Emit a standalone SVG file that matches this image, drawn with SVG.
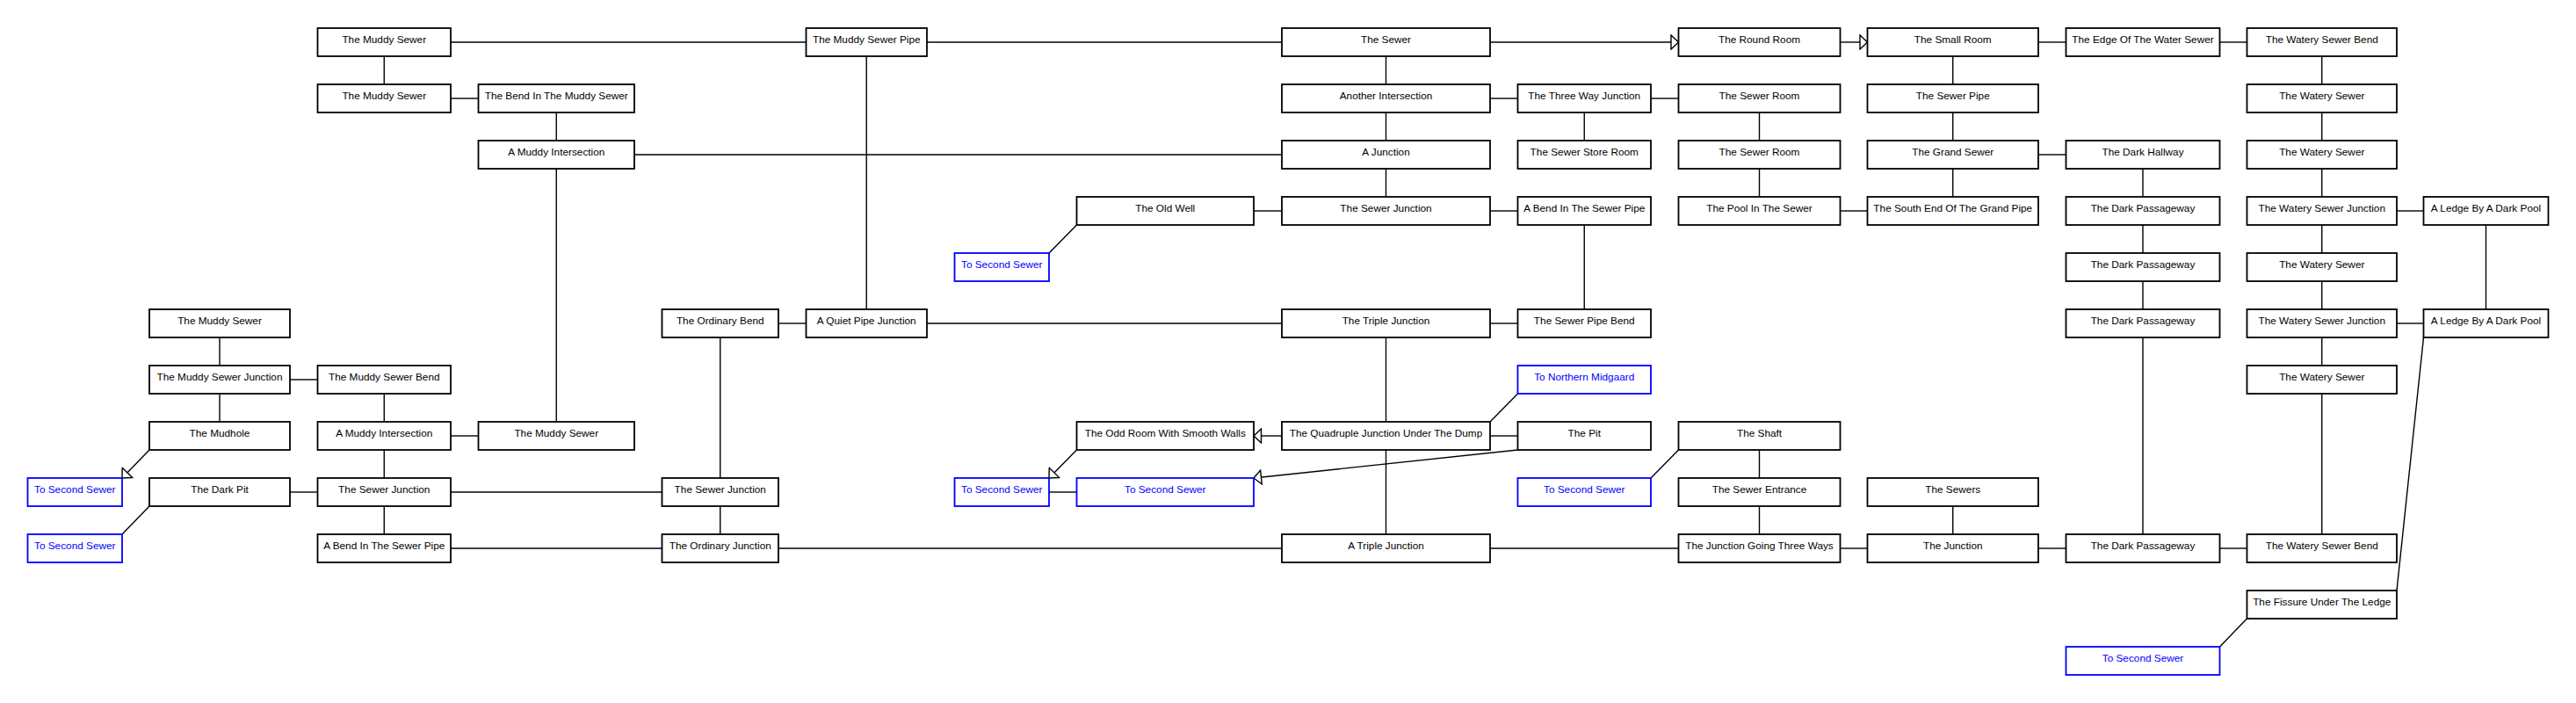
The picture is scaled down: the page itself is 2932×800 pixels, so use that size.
<svg xmlns="http://www.w3.org/2000/svg" width="2932" height="800" viewBox="0 0 2932 800">
<style>
rect{fill:#fff;stroke:#000;stroke-width:1.8}
.b rect{stroke:#0000ff}
text{font-family:"Liberation Sans",Arial,sans-serif;font-size:11.8px;text-anchor:middle;fill:#000}
.b text{fill:#0000ff}
#edges line{stroke:#000;stroke-width:1.4;fill:none}
#edges .a{marker-end:url(#arr)}
</style>
<defs>
<marker id="arr" viewBox="0 0 10 18" refX="9.5" refY="9" markerWidth="10" markerHeight="18" markerUnits="userSpaceOnUse" orient="auto">
<path d="M1,1 L9.5,9 L1,17 Z" fill="#fff" stroke="#000" stroke-width="1.4"/>
</marker>
</defs>
<rect x="0" y="0" width="2932" height="800" style="fill:#fff;stroke:none"/>
<g id="edges">
<line x1="437.25" y1="64" x2="437.25" y2="96"/>
<line x1="633.25" y1="128" x2="633.25" y2="160"/>
<line x1="633.25" y1="192" x2="633.25" y2="480"/>
<line x1="986.25" y1="64" x2="986.25" y2="352"/>
<line x1="1577.5" y1="64" x2="1577.5" y2="96"/>
<line x1="1577.5" y1="128" x2="1577.5" y2="160"/>
<line x1="1577.5" y1="192" x2="1577.5" y2="224"/>
<line x1="1803.25" y1="128" x2="1803.25" y2="160"/>
<line x1="2002.5" y1="128" x2="2002.5" y2="160"/>
<line x1="2002.5" y1="192" x2="2002.5" y2="224"/>
<line x1="2222.75" y1="64" x2="2222.75" y2="96"/>
<line x1="2222.75" y1="128" x2="2222.75" y2="160"/>
<line x1="2222.75" y1="192" x2="2222.75" y2="224"/>
<line x1="2439" y1="192" x2="2439" y2="224"/>
<line x1="2439" y1="256" x2="2439" y2="288"/>
<line x1="2439" y1="320" x2="2439" y2="352"/>
<line x1="2439" y1="384" x2="2439" y2="608"/>
<line x1="2642.75" y1="64" x2="2642.75" y2="96"/>
<line x1="2642.75" y1="128" x2="2642.75" y2="160"/>
<line x1="2642.75" y1="192" x2="2642.75" y2="224"/>
<line x1="2642.75" y1="256" x2="2642.75" y2="288"/>
<line x1="2642.75" y1="320" x2="2642.75" y2="352"/>
<line x1="2642.75" y1="384" x2="2642.75" y2="416"/>
<line x1="2642.75" y1="448" x2="2642.75" y2="608"/>
<line x1="2829.5" y1="256" x2="2829.5" y2="352"/>
<line x1="1803.25" y1="256" x2="1803.25" y2="352"/>
<line x1="1577.5" y1="384" x2="1577.5" y2="480"/>
<line x1="1577.5" y1="512" x2="1577.5" y2="608"/>
<line x1="819.75" y1="384" x2="819.75" y2="544"/>
<line x1="819.75" y1="576" x2="819.75" y2="608"/>
<line x1="2002.5" y1="512" x2="2002.5" y2="544"/>
<line x1="2002.5" y1="576" x2="2002.5" y2="608"/>
<line x1="2222.75" y1="576" x2="2222.75" y2="608"/>
<line x1="250" y1="384" x2="250" y2="416"/>
<line x1="250" y1="448" x2="250" y2="480"/>
<line x1="437.25" y1="448" x2="437.25" y2="480"/>
<line x1="437.25" y1="512" x2="437.25" y2="544"/>
<line x1="437.25" y1="576" x2="437.25" y2="608"/>
<line x1="513" y1="48" x2="917.5" y2="48"/>
<line x1="1055" y1="48" x2="1459" y2="48"/>
<line class="a" x1="1696" y1="48" x2="1910.5" y2="48"/>
<line class="a" x1="2094.5" y1="48" x2="2125.5" y2="48"/>
<line x1="2320" y1="48" x2="2351.5" y2="48"/>
<line x1="2526.5" y1="48" x2="2557.5" y2="48"/>
<line x1="513" y1="112" x2="544.5" y2="112"/>
<line x1="1696" y1="112" x2="1727.5" y2="112"/>
<line x1="1879" y1="112" x2="1910.5" y2="112"/>
<line x1="722" y1="176" x2="1459" y2="176"/>
<line x1="2320" y1="176" x2="2351.5" y2="176"/>
<line x1="1427" y1="240" x2="1459" y2="240"/>
<line x1="1696" y1="240" x2="1727.5" y2="240"/>
<line x1="2094.5" y1="240" x2="2125.5" y2="240"/>
<line x1="2728" y1="240" x2="2758.5" y2="240"/>
<line x1="886" y1="368" x2="917.5" y2="368"/>
<line x1="1055" y1="368" x2="1459" y2="368"/>
<line x1="1696" y1="368" x2="1727.5" y2="368"/>
<line x1="2728" y1="368" x2="2758.5" y2="368"/>
<line x1="330" y1="432" x2="361.5" y2="432"/>
<line x1="513" y1="496" x2="544.5" y2="496"/>
<line class="a" x1="1459" y1="496" x2="1427" y2="496"/>
<line x1="1696" y1="496" x2="1727.5" y2="496"/>
<line x1="330" y1="560" x2="361.5" y2="560"/>
<line x1="513" y1="560" x2="753.5" y2="560"/>
<line x1="1194" y1="560" x2="1225.5" y2="560"/>
<line x1="513" y1="624" x2="753.5" y2="624"/>
<line x1="886" y1="624" x2="1459" y2="624"/>
<line x1="1696" y1="624" x2="1910.5" y2="624"/>
<line x1="2094.5" y1="624" x2="2125.5" y2="624"/>
<line x1="2320" y1="624" x2="2351.5" y2="624"/>
<line x1="2526.5" y1="624" x2="2557.5" y2="624"/>
<line class="a" x1="170" y1="512" x2="139" y2="544"/>
<line x1="170" y1="576" x2="139" y2="608"/>
<line x1="1225.5" y1="256" x2="1194" y2="288"/>
<line x1="1696" y1="480" x2="1727.5" y2="448"/>
<line class="a" x1="1727.5" y1="512" x2="1427" y2="544"/>
<line class="a" x1="1225.5" y1="512" x2="1194" y2="544"/>
<line x1="1910.5" y1="512" x2="1879" y2="544"/>
<line x1="2758.5" y1="384" x2="2728" y2="672"/>
<line x1="2557.5" y1="704" x2="2526.5" y2="736"/>
</g>
<g id="n_c2r0"><rect x="361.5" y="32" width="151.5" height="32"/><text x="437.25" y="48.5">The Muddy Sewer</text></g>
<g id="n_c5r0"><rect x="917.5" y="32" width="137.5" height="32"/><text x="986.25" y="48.5">The Muddy Sewer Pipe</text></g>
<g id="n_c8r0"><rect x="1459" y="32" width="237" height="32"/><text x="1577.5" y="48.5">The Sewer</text></g>
<g id="n_c10r0"><rect x="1910.5" y="32" width="184" height="32"/><text x="2002.5" y="48.5">The Round Room</text></g>
<g id="n_c11r0"><rect x="2125.5" y="32" width="194.5" height="32"/><text x="2222.75" y="48.5">The Small Room</text></g>
<g id="n_c12r0"><rect x="2351.5" y="32" width="175" height="32"/><text x="2439" y="48.5">The Edge Of The Water Sewer</text></g>
<g id="n_c13r0"><rect x="2557.5" y="32" width="170.5" height="32"/><text x="2642.75" y="48.5">The Watery Sewer Bend</text></g>

<g id="n_c2r1"><rect x="361.5" y="96" width="151.5" height="32"/><text x="437.25" y="112.5">The Muddy Sewer</text></g>
<g id="n_c3r1"><rect x="544.5" y="96" width="177.5" height="32"/><text x="633.25" y="112.5">The Bend In The Muddy Sewer</text></g>
<g id="n_c8r1"><rect x="1459" y="96" width="237" height="32"/><text x="1577.5" y="112.5">Another Intersection</text></g>
<g id="n_c9r1"><rect x="1727.5" y="96" width="151.5" height="32"/><text x="1803.25" y="112.5">The Three Way Junction</text></g>
<g id="n_c10r1"><rect x="1910.5" y="96" width="184" height="32"/><text x="2002.5" y="112.5">The Sewer Room</text></g>
<g id="n_c11r1"><rect x="2125.5" y="96" width="194.5" height="32"/><text x="2222.75" y="112.5">The Sewer Pipe</text></g>
<g id="n_c13r1"><rect x="2557.5" y="96" width="170.5" height="32"/><text x="2642.75" y="112.5">The Watery Sewer</text></g>

<g id="n_c3r2"><rect x="544.5" y="160" width="177.5" height="32"/><text x="633.25" y="176.5">A Muddy Intersection</text></g>
<g id="n_c8r2"><rect x="1459" y="160" width="237" height="32"/><text x="1577.5" y="176.5">A Junction</text></g>
<g id="n_c9r2"><rect x="1727.5" y="160" width="151.5" height="32"/><text x="1803.25" y="176.5">The Sewer Store Room</text></g>
<g id="n_c10r2"><rect x="1910.5" y="160" width="184" height="32"/><text x="2002.5" y="176.5">The Sewer Room</text></g>
<g id="n_c11r2"><rect x="2125.5" y="160" width="194.5" height="32"/><text x="2222.75" y="176.5">The Grand Sewer</text></g>
<g id="n_c12r2"><rect x="2351.5" y="160" width="175" height="32"/><text x="2439" y="176.5">The Dark Hallway</text></g>
<g id="n_c13r2"><rect x="2557.5" y="160" width="170.5" height="32"/><text x="2642.75" y="176.5">The Watery Sewer</text></g>

<g id="n_c7r3"><rect x="1225.5" y="224" width="201.5" height="32"/><text x="1326.25" y="240.5">The Old Well</text></g>
<g id="n_c8r3"><rect x="1459" y="224" width="237" height="32"/><text x="1577.5" y="240.5">The Sewer Junction</text></g>
<g id="n_c9r3"><rect x="1727.5" y="224" width="151.5" height="32"/><text x="1803.25" y="240.5">A Bend In The Sewer Pipe</text></g>
<g id="n_c10r3"><rect x="1910.5" y="224" width="184" height="32"/><text x="2002.5" y="240.5">The Pool In The Sewer</text></g>
<g id="n_c11r3"><rect x="2125.5" y="224" width="194.5" height="32"/><text x="2222.75" y="240.5">The South End Of The Grand Pipe</text></g>
<g id="n_c12r3"><rect x="2351.5" y="224" width="175" height="32"/><text x="2439" y="240.5">The Dark Passageway</text></g>
<g id="n_c13r3"><rect x="2557.5" y="224" width="170.5" height="32"/><text x="2642.75" y="240.5">The Watery Sewer Junction</text></g>
<g id="n_c14r3"><rect x="2758.5" y="224" width="142" height="32"/><text x="2829.5" y="240.5">A Ledge By A Dark Pool</text></g>

<g id="n_c6r4" class="b"><rect x="1086.5" y="288" width="107.5" height="32"/><text x="1140.25" y="304.5">To Second Sewer</text></g>
<g id="n_c12r4"><rect x="2351.5" y="288" width="175" height="32"/><text x="2439" y="304.5">The Dark Passageway</text></g>
<g id="n_c13r4"><rect x="2557.5" y="288" width="170.5" height="32"/><text x="2642.75" y="304.5">The Watery Sewer</text></g>

<g id="n_c1r5"><rect x="170" y="352" width="160" height="32"/><text x="250" y="368.5">The Muddy Sewer</text></g>
<g id="n_c4r5"><rect x="753.5" y="352" width="132.5" height="32"/><text x="819.75" y="368.5">The Ordinary Bend</text></g>
<g id="n_c5r5"><rect x="917.5" y="352" width="137.5" height="32"/><text x="986.25" y="368.5">A Quiet Pipe Junction</text></g>
<g id="n_c8r5"><rect x="1459" y="352" width="237" height="32"/><text x="1577.5" y="368.5">The Triple Junction</text></g>
<g id="n_c9r5"><rect x="1727.5" y="352" width="151.5" height="32"/><text x="1803.25" y="368.5">The Sewer Pipe Bend</text></g>
<g id="n_c12r5"><rect x="2351.5" y="352" width="175" height="32"/><text x="2439" y="368.5">The Dark Passageway</text></g>
<g id="n_c13r5"><rect x="2557.5" y="352" width="170.5" height="32"/><text x="2642.75" y="368.5">The Watery Sewer Junction</text></g>
<g id="n_c14r5"><rect x="2758.5" y="352" width="142" height="32"/><text x="2829.5" y="368.5">A Ledge By A Dark Pool</text></g>

<g id="n_c1r6"><rect x="170" y="416" width="160" height="32"/><text x="250" y="432.5">The Muddy Sewer Junction</text></g>
<g id="n_c2r6"><rect x="361.5" y="416" width="151.5" height="32"/><text x="437.25" y="432.5">The Muddy Sewer Bend</text></g>
<g id="n_c9r6" class="b"><rect x="1727.5" y="416" width="151.5" height="32"/><text x="1803.25" y="432.5">To Northern Midgaard</text></g>
<g id="n_c13r6"><rect x="2557.5" y="416" width="170.5" height="32"/><text x="2642.75" y="432.5">The Watery Sewer</text></g>

<g id="n_c1r7"><rect x="170" y="480" width="160" height="32"/><text x="250" y="496.5">The Mudhole</text></g>
<g id="n_c2r7"><rect x="361.5" y="480" width="151.5" height="32"/><text x="437.25" y="496.5">A Muddy Intersection</text></g>
<g id="n_c3r7"><rect x="544.5" y="480" width="177.5" height="32"/><text x="633.25" y="496.5">The Muddy Sewer</text></g>
<g id="n_c7r7"><rect x="1225.5" y="480" width="201.5" height="32"/><text x="1326.25" y="496.5">The Odd Room With Smooth Walls</text></g>
<g id="n_c8r7"><rect x="1459" y="480" width="237" height="32"/><text x="1577.5" y="496.5">The Quadruple Junction Under The Dump</text></g>
<g id="n_c9r7"><rect x="1727.5" y="480" width="151.5" height="32"/><text x="1803.25" y="496.5">The Pit</text></g>
<g id="n_c10r7"><rect x="1910.5" y="480" width="184" height="32"/><text x="2002.5" y="496.5">The Shaft</text></g>

<g id="n_c0r8" class="b"><rect x="31.5" y="544" width="107.5" height="32"/><text x="85.25" y="560.5">To Second Sewer</text></g>
<g id="n_c1r8"><rect x="170" y="544" width="160" height="32"/><text x="250" y="560.5">The Dark Pit</text></g>
<g id="n_c2r8"><rect x="361.5" y="544" width="151.5" height="32"/><text x="437.25" y="560.5">The Sewer Junction</text></g>
<g id="n_c4r8"><rect x="753.5" y="544" width="132.5" height="32"/><text x="819.75" y="560.5">The Sewer Junction</text></g>
<g id="n_c6r8" class="b"><rect x="1086.5" y="544" width="107.5" height="32"/><text x="1140.25" y="560.5">To Second Sewer</text></g>
<g id="n_c7r8" class="b"><rect x="1225.5" y="544" width="201.5" height="32"/><text x="1326.25" y="560.5">To Second Sewer</text></g>
<g id="n_c9r8" class="b"><rect x="1727.5" y="544" width="151.5" height="32"/><text x="1803.25" y="560.5">To Second Sewer</text></g>
<g id="n_c10r8"><rect x="1910.5" y="544" width="184" height="32"/><text x="2002.5" y="560.5">The Sewer Entrance</text></g>
<g id="n_c11r8"><rect x="2125.5" y="544" width="194.5" height="32"/><text x="2222.75" y="560.5">The Sewers</text></g>

<g id="n_c0r9" class="b"><rect x="31.5" y="608" width="107.5" height="32"/><text x="85.25" y="624.5">To Second Sewer</text></g>
<g id="n_c2r9"><rect x="361.5" y="608" width="151.5" height="32"/><text x="437.25" y="624.5">A Bend In The Sewer Pipe</text></g>
<g id="n_c4r9"><rect x="753.5" y="608" width="132.5" height="32"/><text x="819.75" y="624.5">The Ordinary Junction</text></g>
<g id="n_c8r9"><rect x="1459" y="608" width="237" height="32"/><text x="1577.5" y="624.5">A Triple Junction</text></g>
<g id="n_c10r9"><rect x="1910.5" y="608" width="184" height="32"/><text x="2002.5" y="624.5">The Junction Going Three Ways</text></g>
<g id="n_c11r9"><rect x="2125.5" y="608" width="194.5" height="32"/><text x="2222.75" y="624.5">The Junction</text></g>
<g id="n_c12r9"><rect x="2351.5" y="608" width="175" height="32"/><text x="2439" y="624.5">The Dark Passageway</text></g>
<g id="n_c13r9"><rect x="2557.5" y="608" width="170.5" height="32"/><text x="2642.75" y="624.5">The Watery Sewer Bend</text></g>

<g id="n_c13r10"><rect x="2557.5" y="672" width="170.5" height="32"/><text x="2642.75" y="688.5">The Fissure Under The Ledge</text></g>
<g id="n_c12r11" class="b"><rect x="2351.5" y="736" width="175" height="32"/><text x="2439" y="752.5">To Second Sewer</text></g>
</svg>
